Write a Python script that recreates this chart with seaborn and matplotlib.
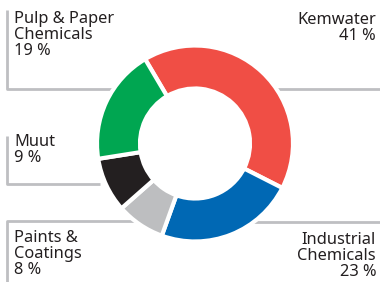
import matplotlib

matplotlib.use("Agg")

import matplotlib.pyplot as plt
import seaborn as sns

# segment data, clockwise from the top-left gap
segments = ["Kemwater", "Industrial\nChemicals", "Paints &\nCoatings", "Muut", "Pulp & Paper\nChemicals"]
shares = [41, 23, 8, 9, 19]
colors = ["#F04E45", "#0068B4", "#BDBEC0", "#231F20", "#00A651"]

TEXT = "#231F20"
LINE = "#BEBFC2"
H = 282  # figure height in px, used to flip y

sns.set_theme(style="white")
plt.rcParams["font.family"] = ["Noto Sans", "DejaVu Sans"]

fig = plt.figure(figsize=(3.8, 2.82), dpi=100)
ax = fig.add_axes([0, 0, 1, 1])

ax.pie(
    shares,
    colors=colors,
    startangle=120.6,
    counterclock=False,
    center=(195, H - 143.5),
    radius=98,
    wedgeprops={"width": 43, "edgecolor": "white", "linewidth": 3},
)
ax.set_xlim(0, 380)
ax.set_ylim(0, H)
ax.set_aspect("auto")
ax.axis("off")


def line(xs, ys):
    ax.plot(xs, [H - y for y in ys], color=LINE, lw=2, solid_capstyle="butt", zorder=0)


# connector frames (px coordinates from top-left)
line([7, 7, 113], [10, 89, 89])
line([277, 380], [89, 89])
line([7, 7, 100], [136, 184, 184])
line([140, 7, 7], [221, 221, 282])
line([253, 380], [222, 222])

fs = 11.8
label_pos = {
    "Kemwater": (376, 12, "right"),
    "Industrial\nChemicals": (376, 232, "right"),
    "Paints &\nCoatings": (14, 230, "left"),
    "Muut": (14, 134, "left"),
    "Pulp & Paper\nChemicals": (14, 11, "left"),
}
for name, share in zip(segments, shares):
    x, y, ha = label_pos[name]
    ax.text(x, H - y, f"{name}\n{share} %", ha=ha, va="top", fontsize=fs,
            color=TEXT, linespacing=1.0, multialignment=ha)

fig.savefig("out.png", dpi=100)
